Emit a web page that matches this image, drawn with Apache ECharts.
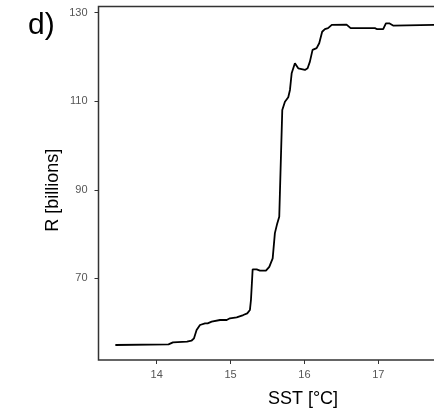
<!DOCTYPE html>
<html>
<head>
<meta charset="utf-8">
<script src="https://cdn.jsdelivr.net/npm/echarts@6/dist/echarts.min.js"></script>
<style>
html,body{margin:0;padding:0;background:#fff;}
#chart{width:434px;height:410px;}
</style>
</head>
<body>
<div id="chart"></div>
<script>
const sst = [13.44, 14.16, 14.17, 14.22, 14.41, 14.47, 14.505, 14.54, 14.586, 14.654, 14.69, 14.744, 14.857, 14.947, 14.992, 15.083, 15.172, 15.226, 15.262, 15.276, 15.299, 15.353, 15.398, 15.479, 15.524, 15.57, 15.6, 15.632, 15.659, 15.678, 15.7, 15.736, 15.781, 15.804, 15.827, 15.871, 15.916, 16.007, 16.043, 16.074, 16.11, 16.165, 16.2, 16.24, 16.277, 16.32, 16.37, 16.57, 16.625, 16.954, 16.985, 17.066, 17.103, 17.148, 17.2, 17.76];
const r = [54.93, 55.08, 54.9, 55.54, 55.68, 55.9, 56.44, 58.3, 59.45, 59.83, 59.83, 60.2, 60.58, 60.58, 60.96, 61.18, 61.7, 62.09, 62.84, 65.1, 72.03, 72.03, 71.73, 71.73, 72.6, 74.5, 80.2, 82.4, 83.9, 95.2, 108.0, 109.9, 110.9, 112.55, 116.3, 118.6, 117.45, 117.07, 117.45, 118.95, 121.6, 121.98, 123.1, 125.7, 126.27, 126.5, 127.24, 127.3, 126.5, 126.5, 126.27, 126.27, 127.6, 127.6, 127.1, 127.24];
const xTicks = [14, 15, 16, 17, 18];
const yTicks = [70, 90, 110, 130];
const panelLabel = 'd)';
const xTitle = 'SST [°C]';
const yTitle = 'R [billions]';

const chart = echarts.init(document.getElementById('chart'), null, {renderer: 'canvas'});
const font = 'Liberation Sans, Arial, Helvetica, sans-serif';
chart.setOption({
  animation: false,
  backgroundColor: '#fff',
  grid: {
    left: 98.5, top: 6.5, height: 353.5, width: 390.6,
    outerBoundsMode: 'none',
    containLabel: false,
    show: true, borderColor: '#333', borderWidth: 1.5, backgroundColor: 'transparent'
  },
  xAxis: {
    type: 'value', min: 13.212, max: 18.5,
    axisLine: {show: false},
    splitLine: {show: false},
    axisTick: {show: true, length: 4, lineStyle: {color: '#333', width: 1}, customValues: xTicks},
    axisLabel: {color: '#555', fontSize: 11, fontFamily: font, margin: 9, customValues: xTicks}
  },
  yAxis: {
    type: 'value', min: 51.544, max: 131.4,
    axisLine: {show: false},
    splitLine: {show: false},
    axisTick: {show: true, length: 4, lineStyle: {color: '#333', width: 1}, customValues: yTicks},
    axisLabel: {color: '#555', fontSize: 11, fontFamily: font, margin: 11, customValues: yTicks}
  },
  series: [{
    type: 'line',
    data: sst.map((x, i) => [x, r[i]]),
    showSymbol: false,
    lineStyle: {color: '#000', width: 1.8},
    itemStyle: {color: '#000'}
  }],
  graphic: [
    {type: 'text', x: 28, y: 26, style: {text: panelLabel, font: '30px ' + font, fill: '#000', align: 'left', verticalAlign: 'middle'}},
    {type: 'text', x: 303, y: 399, style: {text: xTitle, font: '18px ' + font, fill: '#000', align: 'center', verticalAlign: 'middle'}},
    {type: 'text', x: 52.7, y: 190.3, rotation: Math.PI / 2, style: {text: yTitle, font: '18px ' + font, fill: '#000', align: 'center', verticalAlign: 'middle'}}
  ]
});
</script>
</body>
</html>
